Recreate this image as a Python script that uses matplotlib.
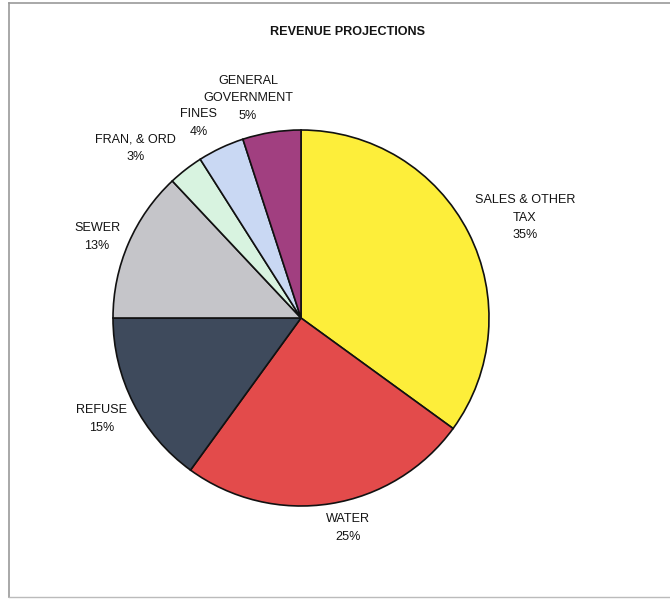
import matplotlib
matplotlib.use("Agg")
import matplotlib.pyplot as plt
from matplotlib.lines import Line2D

categories = ["SALES & OTHER\nTAX", "WATER", "REFUSE", "SEWER", "FRAN, & ORD", "FINES", "GENERAL\nGOVERNMENT"]
values = [35, 25, 15, 13, 3, 4, 5]
colors = ["#FDEE3A", "#E34B4B", "#3E4A5C", "#C5C5C9", "#D8F3E0", "#C9D8F3", "#A13F80"]
# label centre positions in pie-radius units (pie centre at 0,0)
label_pos = [(1.191, 0.532), (0.25, -1.117), (-1.059, -0.537), (-1.085, 0.431),
             (-0.878, 0.904), (-0.543, 1.037), (-0.282, 1.170)]

W, H = 670, 602
cx, cy, R = 301, 318, 188
fig = plt.figure(figsize=(W / 100, H / 100), dpi=100)
ax = fig.add_axes([0, 0, 1, 1])

ax.pie(values, colors=colors, startangle=90, counterclock=False, radius=1,
       center=(0, 0), frame=True,
       wedgeprops=dict(edgecolor="#111111", linewidth=1.2))
ax.set_xlim(-cx / R, (W - cx) / R)
ax.set_ylim((cy - H) / R, cy / R)
ax.set_aspect("auto")
ax.axis("off")

line_step = 17.5 / R
total = sum(values)
for cat, v, (x, y) in zip(categories, values, label_pos):
    pct = round(100 * v / total)
    lines = cat.split("\n") + [f"{pct}%"]
    n = len(lines)
    for i, ln in enumerate(lines):
        yy = y + ((n - 1) / 2 - i) * line_step
        ax.text(x, yy, ln, ha="center", va="center", fontsize=9.1,
                family="Liberation Sans", color="#141414")

fig.text(347 / W, 1 - 32 / H, "REVENUE PROJECTIONS", ha="center", va="center",
         fontsize=9.1, fontweight="bold", family="Liberation Sans", color="#141414")

# frame lines
fig.add_artist(Line2D([9 / W, 1], [1 - 3 / H, 1 - 3 / H], color="#999999", lw=1.2, transform=fig.transFigure))
fig.add_artist(Line2D([9 / W, 9 / W], [1 - 3 / H, 1 - 597 / H], color="#999999", lw=1.2, transform=fig.transFigure))
fig.add_artist(Line2D([9 / W, 1], [1 - 597 / H, 1 - 597 / H], color="#bbbbbb", lw=1.0, transform=fig.transFigure))

fig.savefig("out.png", dpi=100, facecolor="white")
